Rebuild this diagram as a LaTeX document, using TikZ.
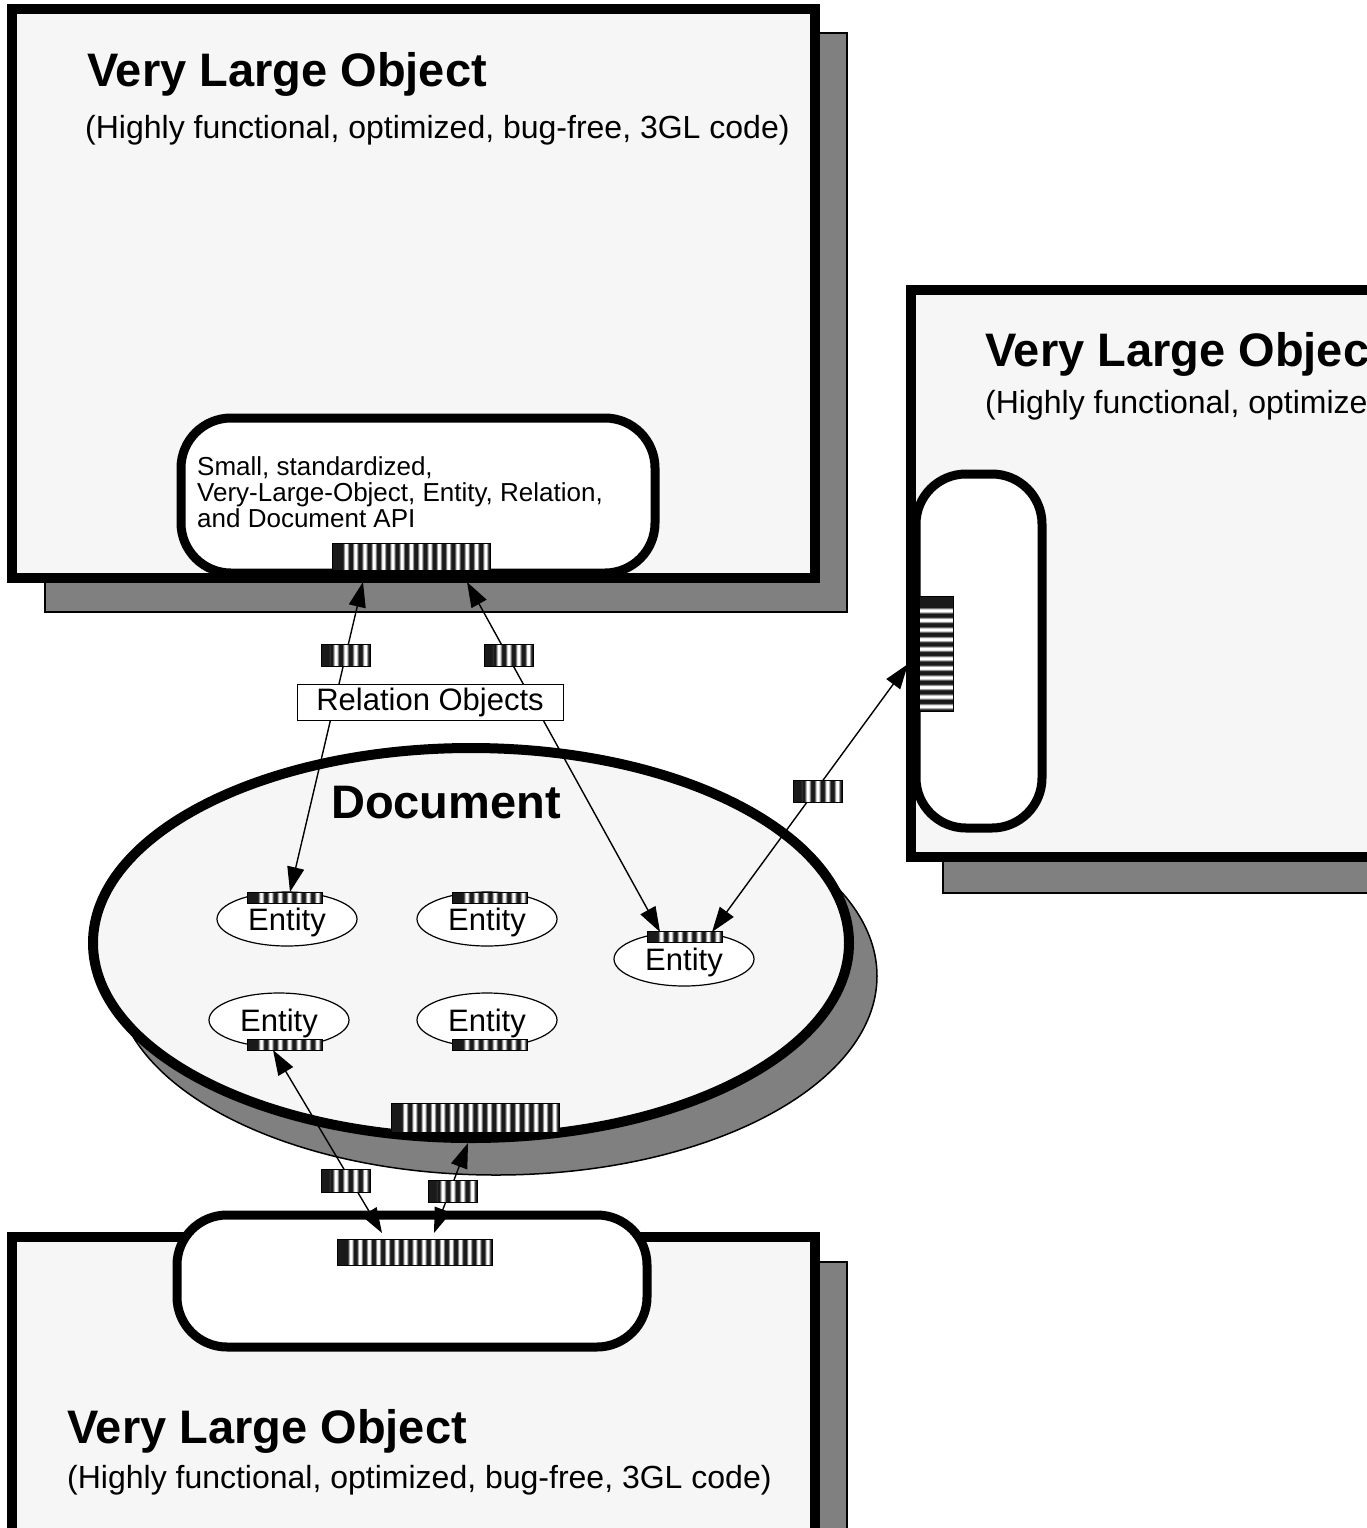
\documentclass[tikz,border=0pt]{standalone}
\usepackage{fontspec}
\setmainfont{Liberation Sans}
\usetikzlibrary{shapes.geometric,arrows.meta,calc}
\definecolor{boxfill}{HTML}{F6F6F6}
\definecolor{shadowgray}{HTML}{808080}
\definecolor{stripedark}{HTML}{1A1A1A}
\pgfdeclarehorizontalshading{stripeh}{100bp}{color(0bp)=(stripedark); color(25bp)=(stripedark); color(33bp)=(stripedark); color(45bp)=(white); color(55bp)=(white); color(67bp)=(stripedark); color(75bp)=(stripedark); color(100bp)=(stripedark)}
\pgfdeclareverticalshading{stripev}{100bp}{color(0bp)=(stripedark); color(25bp)=(stripedark); color(33bp)=(stripedark); color(45bp)=(white); color(55bp)=(white); color(67bp)=(stripedark); color(75bp)=(stripedark); color(100bp)=(stripedark)}
\tikzset{
  vlo/.style={draw, line width=10pt, fill=boxfill, inner sep=0pt, rectangle},
  shadowbox/.style={draw, line width=1.5pt, fill=shadowgray, inner sep=0pt, rectangle},
  apibox/.style={draw, line width=9pt, fill=white, inner sep=0pt, rounded corners=50pt, rectangle},
  titletext/.style={font=\fontsize{47}{47}\selectfont\bfseries, inner sep=0pt, anchor=base west},
  subtext/.style={font=\fontsize{32}{32}\selectfont, inner sep=0pt, anchor=base west},
  apitext/.style={font=\fontsize{26}{26}\selectfont, inner sep=0pt, anchor=base west},
  entity/.style={ellipse, draw, line width=1.2pt, fill=white, minimum width=140pt, minimum height=54pt, inner sep=0pt, font=\fontsize{31}{31}\selectfont, text depth=0pt},
  relbox/.style={draw, line width=1pt, fill=white, minimum width=266pt, minimum height=36pt, inner sep=0pt, font=\fontsize{31}{31}\selectfont},
  vstripes/.style={draw, line width=1pt, fill=white, inner sep=0pt, path picture={
      \foreach \k in {1,...,#1}{
        \shade[shading=stripeh]
          ($(path picture bounding box.south west)!{(\k-1)/#1}!(path picture bounding box.south east)$)
          rectangle
          ($(path picture bounding box.north west)!{\k/#1}!(path picture bounding box.north east)$);
      }}},
  hstripes/.style={draw, line width=1pt, fill=white, inner sep=0pt, path picture={
      \foreach \k in {1,...,#1}{
        \shade[shading=stripev]
          ($(path picture bounding box.north west)!{(\k-1)/#1}!(path picture bounding box.south west)$)
          rectangle
          ($(path picture bounding box.north east)!{\k/#1}!(path picture bounding box.south east)$);
      }}},
  arr/.style={line width=1.4pt, arrows={Triangle[length=25pt,width=17pt]-Triangle[length=25pt,width=17pt]}},
}
\begin{document}
\begin{tikzpicture}[x=1pt,y=-1pt]
\useasboundingbox (0,0) rectangle (1367,1528);
\clip (0,0) rectangle (1367,1528);
\fill[white] (0,0) rectangle (1367,1528);

% --- top Very Large Object ---
\node[shadowbox, minimum width=802pt, minimum height=579pt] (topshadow) at (446,322.5) {};
\node[vlo, minimum width=802.5pt, minimum height=568.5pt] (topbox) at (413.25,293.75) {};
% --- right Very Large Object ---
\node[shadowbox, minimum width=557pt, minimum height=575pt] (rightshadow) at (1221.5,605.5) {};
\node[vlo, minimum width=589pt, minimum height=567.5pt] (rightbox) at (1205.5,573.25) {};
% --- bottom Very Large Object ---
\node[shadowbox, minimum width=802pt, minimum height=338pt] (botshadow) at (446,1431) {};
\node[vlo, minimum width=802.5pt, minimum height=363pt] (botbox) at (413.25,1418.5) {};

% --- Document ---
\node[ellipse, draw, line width=1.5pt, fill=shadowgray, minimum width=762pt, minimum height=398pt, inner sep=0pt] (docshadow) at (496,976) {};
\node[ellipse, draw, line width=10pt, fill=boxfill, minimum width=756pt, minimum height=390pt, inner sep=0pt] (doc) at (471,943) {};

% --- API boxes ---
\node[apibox, minimum width=474pt, minimum height=155pt] (topapi) at (418,495.5) {};
\node[apibox, minimum width=126pt, minimum height=354pt] (rightapi) at (979,651) {};
\node[apibox, minimum width=470pt, minimum height=132pt] (botapi) at (412,1281) {};

% --- texts ---
\node[titletext] (toptitle) at (87,86) {Very Large Object};
\node[subtext] (topsub) at (85,138) {(Highly functional, optimized, bug-free, 3GL code)};
\node[titletext] (righttitle) at (985,366) {Very Large Object};
\node[subtext] (rightsub) at (985,413) {(Highly functional, optimized, bug-free, 3GL code)};
\node[titletext] (bottitle) at (67,1443) {Very Large Object};
\node[subtext] (botsub) at (67,1488) {(Highly functional, optimized, bug-free, 3GL code)};
\node[titletext] (doctitle) at (331,818) {Document};
\node[apitext] (api1) at (197,475) {Small, standardized,};
\node[apitext] (api2) at (197,501) {Very-Large-Object, Entity, Relation,};
\node[apitext] (api3) at (197,527) {and Document API};

% --- entities ---
\node[entity] (e1) at (287,919) {Entity};
\node[entity] (e2) at (487,919) {Entity};
\node[entity] (e3) at (684,959) {Entity};
\node[entity] (e4) at (279,1020) {Entity};
\node[entity] (e5) at (487,1020) {Entity};

% --- connector end points ---
\coordinate (a1s) at (363,582);
\coordinate (a1e) at (290,892);
\coordinate (a2s) at (467,582);
\coordinate (a2e) at (660,932);
\coordinate (a3s) at (712,932);
\coordinate (a3e) at (908,664);
\coordinate (a4s) at (273,1050);
\coordinate (a4e) at (382,1233);
\coordinate (a5s) at (468,1143);
\coordinate (a5e) at (434,1233);

\draw[arr] (a1s) -- (a1e);
\draw[arr] (a2s) -- (a2e);
\draw[arr] (a3s) -- (a3e);
\draw[arr] (a4s) -- (a4e);
\draw[arr] (a5s) -- (a5e);

\node[relbox] (rel) at (430,702) {Relation Objects};

% --- interface bars ---
\node[vstripes=17, minimum width=158pt, minimum height=27pt] (tb) at (411,556.5) {};
\node[vstripes=5, minimum width=49pt, minimum height=22pt] (sb1) at (345.5,655) {};
\node[vstripes=5, minimum width=49pt, minimum height=22pt] (sb2) at (508.5,655) {};
\node[vstripes=5, minimum width=49pt, minimum height=22pt] (sb3) at (817.5,791) {};
\node[vstripes=5, minimum width=49pt, minimum height=23pt] (sb4) at (345.5,1180.5) {};
\node[vstripes=5, minimum width=49pt, minimum height=22pt] (sb5) at (452.5,1191) {};
\node[vstripes=18, minimum width=168pt, minimum height=29pt] (db) at (475,1117.5) {};
\node[vstripes=17, minimum width=155pt, minimum height=26pt] (bb) at (414.5,1252) {};
\node[hstripes=12, minimum width=34pt, minimum height=115pt] (rb) at (936,653.5) {};
\node[vstripes=8, minimum width=75pt, minimum height=11pt] (e1b) at (284.5,897.5) {};
\node[vstripes=8, minimum width=75pt, minimum height=11pt] (e2b) at (490,897.5) {};
\node[vstripes=8, minimum width=75pt, minimum height=11pt] (e3b) at (684.5,937) {};
\node[vstripes=8, minimum width=75pt, minimum height=11pt] (e4b) at (284.5,1044.5) {};
\node[vstripes=8, minimum width=75pt, minimum height=11pt] (e5b) at (490,1044.5) {};
\end{tikzpicture}
\end{document}
